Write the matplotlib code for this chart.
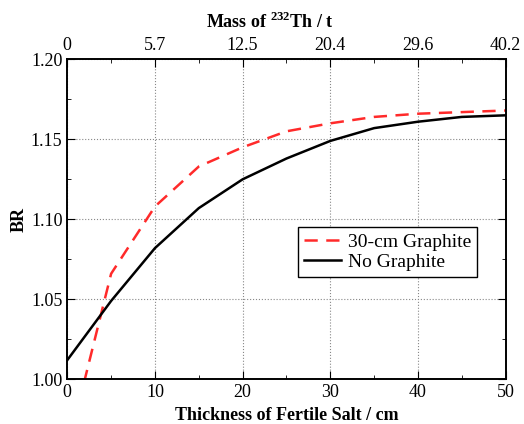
import numpy as np
import matplotlib
matplotlib.use('Agg')
import matplotlib.pyplot as plt
from matplotlib.ticker import MultipleLocator

plt.rcParams['font.family'] = 'Liberation Serif'
plt.rcParams['mathtext.fontset'] = 'custom'
plt.rcParams['mathtext.bf'] = 'Liberation Serif:bold'
plt.rcParams['mathtext.rm'] = 'Liberation Serif'

# thickness of fertile salt (cm)
thickness = [0, 5, 10, 15, 20, 25, 30, 35, 40, 45, 50]
# breeding ratio
br_graphite = [0.956, 1.066, 1.108, 1.133, 1.145, 1.155, 1.160, 1.164, 1.166, 1.167, 1.168]
br_no_graphite = [1.012, 1.049, 1.082, 1.107, 1.125, 1.138, 1.149, 1.157, 1.161, 1.164, 1.165]

top_ticks = [0, 10, 20, 30, 40, 50]
top_labels = ['0', '5.7', '12.5', '20.4', '29.6', '40.2']

fig = plt.figure(figsize=(5.24, 4.24), dpi=100)
ax = fig.add_axes([0.1284, 0.1054, 0.8366, 0.7547])

ax.plot(thickness, br_graphite, color='#ff2a2a', lw=1.8, dashes=(5.3, 3.4), label='30-cm Graphite')
ax.plot(thickness, br_no_graphite, color='black', lw=1.8, label='No Graphite')

ax.set_xlim(0, 50)
ax.set_ylim(1.00, 1.20)
ax.xaxis.set_major_locator(MultipleLocator(10))
ax.xaxis.set_minor_locator(MultipleLocator(5))
ax.yaxis.set_major_locator(MultipleLocator(0.05))
ax.yaxis.set_minor_locator(MultipleLocator(0.025))
ax.yaxis.set_major_formatter(plt.FormatStrFormatter('%.2f'))
ax.tick_params(which='both', direction='in', right=True, labelsize=13)
ax.tick_params(which='major', length=6)
ax.tick_params(which='minor', length=3)
ax.grid(True, which='major', linestyle=':', color='#888888', lw=0.8)

ax.set_xlabel('Thickness of Fertile Salt / cm', fontsize=13, fontweight='bold', labelpad=4)
ax.set_ylabel('BR', fontsize=13, fontweight='bold', labelpad=2)

ax2 = ax.twiny()
ax2.set_xlim(ax.get_xlim())
ax2.set_xticks(top_ticks)
ax2.set_xticklabels(top_labels)
ax2.xaxis.set_minor_locator(MultipleLocator(5))
ax2.tick_params(which='both', direction='in', labelsize=13)
ax2.tick_params(which='major', length=6)
ax2.tick_params(which='minor', length=3)
ax2.set_xlabel(r'Mass of $^{\mathbf{232}}$Th / t', fontsize=13, fontweight='bold',
               labelpad=7, x=0.462)

for a in (ax, ax2):
    for s in a.spines.values():
        s.set_linewidth(1.2)

leg = ax.legend(loc='upper left', bbox_to_anchor=(0.527, 0.475), fontsize=14,
                frameon=True, fancybox=False, edgecolor='black', framealpha=1,
                handlelength=1.9, handletextpad=0.35, borderpad=0.3,
                labelspacing=0.12, borderaxespad=0)
leg.get_frame().set_linewidth(1.0)

fig.savefig('out.png', dpi=100)
